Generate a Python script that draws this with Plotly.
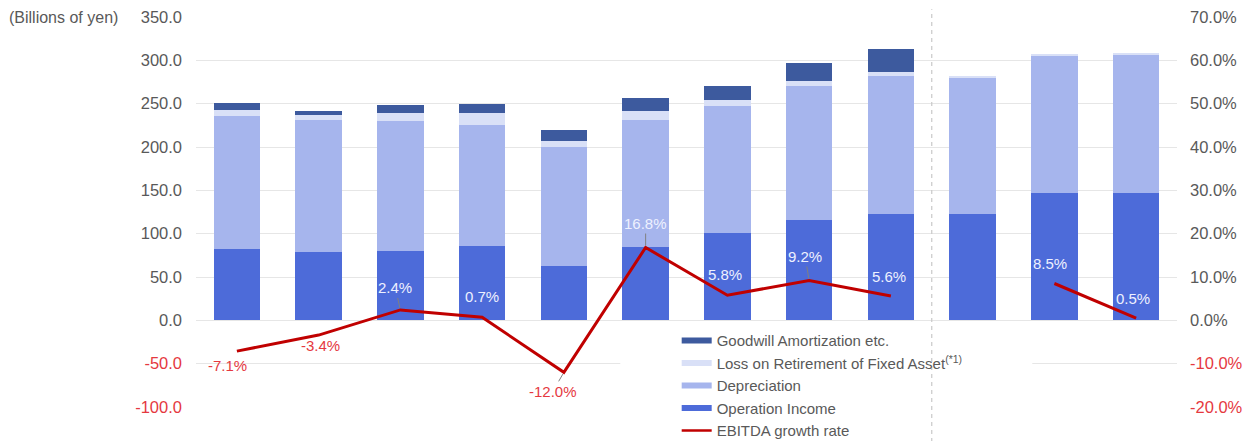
import plotly.graph_objects as go

categories = ["FY1", "FY2", "FY3", "FY4", "FY5", "FY6", "FY7", "FY8", "FY9", "FY10", "FY11", "FY12"]
operation_income = [82.4, 79.0, 80.5, 86.2, 63.2, 84.7, 100.5, 116.0, 123.0, 123.0, 147.0, 147.0]
depreciation = [153.3, 152.6, 149.1, 138.8, 137.3, 146.1, 147.2, 154.9, 159.4, 157.0, 158.5, 160.0]
loss_retirement = [6.9, 4.9, 9.2, 13.8, 6.1, 10.7, 6.9, 5.8, 3.9, 1.7, 1.7, 1.8]
goodwill = [7.7, 5.0, 9.2, 10.7, 13.4, 14.9, 16.3, 20.8, 26.3, 0.0, 0.0, 0.0]
ebitda_growth = [-7.1, -3.4, 2.4, 0.7, -12.0, 16.8, 5.8, 9.2, 5.6, None, 8.5, 0.5]

left_ticks = [-100, -50, 0, 50, 100, 150, 200, 250, 300, 350]
right_ticks = [-20, -10, 0, 10, 20, 30, 40, 50, 60, 70]

# label placement (pixel offsets of each growth label from its point, leader line flag)
label_offsets = [(-9, 14, False), (2, 10, False), (-5, -22, True), (0, -21, False),
                 (-11, 19, True), (0, -24, True), (-2, -21, False), (-4, -24, True),
                 (-2, -20, False), None, (-4, -20, False), (-3, -20, False)]

C_OI = "#4d6bd9"
C_DEP = "#a6b5ed"
C_LOSS = "#d9e0f7"
C_GW = "#3d5a9e"
C_LINE = "#c00000"
C_NEG = "#e5393f"
C_TXT = "#595959"
C_LBL = "#eef1ff"
FONT = "Liberation Sans, Arial"

fig = go.Figure()
for name, vals, col in [("Operation Income", operation_income, C_OI),
                        ("Depreciation", depreciation, C_DEP),
                        ("Loss on Retirement of Fixed Asset", loss_retirement, C_LOSS),
                        ("Goodwill Amortization etc.", goodwill, C_GW)]:
    fig.add_trace(go.Bar(x=categories, y=vals, name=name, marker_color=col,
                         marker_line_width=0, showlegend=False))

fig.add_trace(go.Scatter(x=categories, y=ebitda_growth, yaxis="y2", mode="lines",
                         line=dict(color=C_LINE, width=3), showlegend=False, cliponaxis=False))

# legend-only entries
legend_items = [("Goodwill Amortization etc.", C_GW, 6, 1),
                ("Loss on Retirement of Fixed Asset<sup>(*1)</sup>", C_LOSS, 6, 2),
                ("Depreciation", C_DEP, 6, 3),
                ("Operation Income", C_OI, 6, 4),
                ("EBITDA growth rate", C_LINE, 2.5, 5)]
for name, col, w, rank in legend_items:
    fig.add_trace(go.Scatter(x=[None], y=[None], mode="lines", name=name,
                             line=dict(color=col, width=w), legendrank=rank, showlegend=True))

def fmt_left(v):
    s = f"{v:.1f}"
    return f'<span style="color:{C_NEG}">{s}</span>' if v < 0 else s

def fmt_right(v):
    s = f"{v:.1f}%"
    return f'<span style="color:{C_NEG}">{s}</span>' if v < 0 else s

fig.update_layout(
    width=1250, height=441,
    margin=dict(l=196, r=73, t=17, b=34, autoexpand=False),
    paper_bgcolor="white", plot_bgcolor="white",
    barmode="stack", bargap=0.43,
    font=dict(family=FONT, size=16, color=C_TXT),
    xaxis=dict(type="category", showticklabels=False, showgrid=False, zeroline=False,
               showline=False, ticks="", range=[-0.5, 11.5]),
    yaxis=dict(range=[-100, 350], tickvals=left_ticks, ticktext=[fmt_left(v) for v in left_ticks],
               showgrid=True, gridcolor="#e6e6e6", gridwidth=1, zeroline=False, showline=False,
               ticklabelstandoff=13, tickfont=dict(size=16.5, color=C_TXT)),
    yaxis2=dict(range=[-20, 70], tickvals=right_ticks, ticktext=[fmt_right(v) for v in right_ticks],
                overlaying="y", side="right", showgrid=False, zeroline=False, showline=False,
                ticklabelstandoff=12, tickfont=dict(size=16.5, color=C_TXT)),
    legend=dict(x=0.49, y=0.212, xanchor="left", yanchor="top", bgcolor="rgba(0,0,0,0)",
                traceorder="normal", tracegroupgap=0, itemwidth=30,
                font=dict(size=15, color=C_TXT)),
    showlegend=True,
)

# white panel behind legend hiding gridlines
fig.add_shape(type="rect", xref="x", yref="y", x0=4.69, x1=9.73, y0=-115, y1=-28,
              fillcolor="white", line_width=0, layer="above")
# dashed divider
fig.add_shape(type="line", xref="x", yref="paper", x0=8.5, x1=8.5, y0=-0.09, y1=1.02,
              line=dict(color="#c8c8c8", width=1.2, dash="4px,4px"), layer="above")

# growth-rate labels
for i, v in enumerate(ebitda_growth):
    if v is None or label_offsets[i] is None:
        continue
    ax, ay, leader = label_offsets[i]
    fig.add_annotation(x=i, y=v, xref="x", yref="y2", text=f"{v:.1f}%",
                       showarrow=True, ax=ax, ay=ay, arrowhead=0, arrowwidth=1, standoff=2,
                       arrowcolor="#808080" if leader else "rgba(0,0,0,0)",
                       font=dict(size=15, family=FONT, color=C_NEG if v < 0 else C_LBL))

fig.add_annotation(text="(Billions of yen)", xref="paper", yref="paper", x=-0.193, y=1.0,
                   xanchor="left", yanchor="middle", showarrow=False,
                   font=dict(size=16, color=C_TXT))

fig.write_html("out.html")
